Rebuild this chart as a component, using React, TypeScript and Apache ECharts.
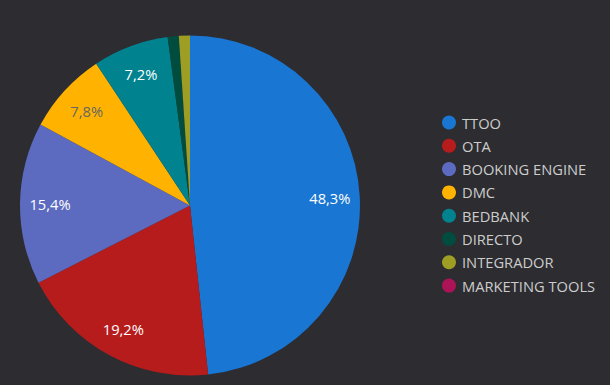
import React, { useEffect, useRef } from "react";
import * as echarts from "echarts";

const categories = ["TTOO", "OTA", "BOOKING ENGINE", "DMC", "BEDBANK", "DIRECTO", "INTEGRADOR", "MARKETING TOOLS"];
const values = [48.3, 19.2, 15.4, 7.8, 7.2, 1.05, 1.05, 0.0];
const colors = ["#1976d2", "#b71c1c", "#5c6bc0", "#ffb300", "#00838f", "#004d40", "#9e9d24", "#ad1457"];
const labelColors = ["#ffffff", "#ffffff", "#ffffff", "#666666", "#ffffff", "#ffffff", "#ffffff", "#ffffff"];

export default function App() {
  const ref = useRef<HTMLDivElement>(null);
  useEffect(() => {
    if (!ref.current) return;
    const chart = echarts.init(ref.current, null, { renderer: "svg" });
    const data = categories.map((name, i) => ({
      name,
      value: values[i],
      itemStyle: { color: colors[i] },
    }));
    const labelData = categories.map((name, i) => ({
      name,
      value: values[i],
      itemStyle: { color: "rgba(0,0,0,0)" },
      label: { color: labelColors[i] },
    }));
    chart.setOption({
      animation: false,
      backgroundColor: "#2d2c31",
      legend: {
        orient: "vertical",
        left: 437,
        top: 110,
        itemWidth: 14,
        itemHeight: 14,
        itemGap: 8.3,
        icon: "circle",
        data: categories,
        textStyle: { color: "#cccccc", fontSize: 14.7, fontFamily: "Open Sans", padding: [0, 0, 0, 1] },
      },
      series: [
        {
          type: "pie",
          center: [190, 205.5],
          radius: [0, 170],
          startAngle: 90,
          clockwise: true,
          label: { show: false },
          labelLine: { show: false },
          emphasis: { disabled: true },
          data,
        },
        {
          type: "pie",
          center: [190, 205.5],
          radius: [104, 170],
          startAngle: 90,
          clockwise: true,
          silent: true,
          legendHoverLink: false,
          label: {
            show: true,
            position: "inside",
            fontSize: 14.7,
            fontFamily: "Open Sans",
            formatter: (p: any) => (p.value >= 2 ? String(p.value).replace(".", ",") + "%" : ""),
          },
          labelLine: { show: false },
          emphasis: { disabled: true },
          data: labelData,
        },
      ],
    });
    return () => chart.dispose();
  }, []);
  return <div ref={ref} style={{ position: "fixed", left: 0, top: 0, width: 610, height: 385 }} />;
}
